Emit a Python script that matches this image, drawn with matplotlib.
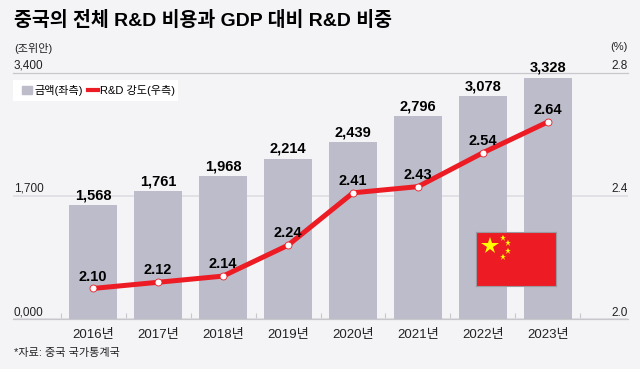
import matplotlib
matplotlib.use('Agg')
import matplotlib.pyplot as plt
from matplotlib.lines import Line2D
from matplotlib.patches import Patch, Rectangle

plt.rcParams['font.family'] = ['Liberation Sans', 'Noto Sans CJK KR']

years = ['2016년', '2017년', '2018년', '2019년', '2020년', '2021년', '2022년', '2023년']
spending = [1568, 1761, 1968, 2214, 2439, 2796, 3078, 3328]
intensity = [2.10, 2.12, 2.14, 2.24, 2.41, 2.43, 2.54, 2.64]
left_ticks = [0, 1700, 3400]
left_labels = ['0,000', '1,700', '3,400']
right_ticks = [2.0, 2.4, 2.8]
right_labels = ['2.0', '2.4', '2.8']

BG = '#f4f4f7'
BAR = '#bcbcca'
RED = '#ed1c24'
GRID = '#c8c8cc'
W, H = 640, 369

fig = plt.figure(figsize=(W / 100, H / 100), dpi=100, facecolor=BG)
ax = fig.add_axes([13 / W, 1 - 319.3 / H, 615 / W, 246.8 / H])
ax.set_facecolor('none')
ax.set_xlim(-1.231, 8.231)
ax.set_ylim(0, 3400)

xs = list(range(len(years)))
ax.bar(xs, spending, width=0.725, color=BAR, zorder=2)
ax.set_xticks([x - 0.5 for x in xs] + [7.5])
ax.set_xticklabels([])
ax.tick_params(axis='x', direction='in', length=4.5, width=0.8, color=GRID)
ax.set_yticks(left_ticks)
ax.set_yticklabels([])
ax.tick_params(axis='y', length=0)
ax.grid(axis='y', color='#dedee2', lw=1.2)
ax.set_axisbelow(True)
for s in ['left', 'right']:
    ax.spines[s].set_visible(False)
for s in ['top', 'bottom']:
    ax.spines[s].set_color(GRID)
    ax.spines[s].set_linewidth(0.9)

for x, year in zip(xs, years):
    ax.annotate(year, (x, 0), xytext=(0, -7), textcoords='offset points',
                ha='center', va='top', fontsize=9.5, color='#222222')
for x, v in zip(xs, spending):
    ax.annotate(f'{v:,}', (x, v), xytext=(0, 2), textcoords='offset points',
                ha='center', va='bottom', fontsize=10.5, fontweight='bold', color='black', zorder=6)

trans = ax.get_yaxis_transform()
for v, lab in zip(left_ticks, left_labels):
    ax.annotate(lab, (0.001, v), xycoords=trans, xytext=(0, 0.8), textcoords='offset points',
                ha='left', va='bottom', fontsize=8.5, color='#222222')

ax2 = ax.twinx()
ax2.set_facecolor('none')
ax2.set_ylim(2.0, 2.8)
ax2.set_yticks([])
for s in ax2.spines.values():
    s.set_visible(False)
ax2.plot(xs, intensity, color=RED, lw=3.6, solid_capstyle='round', zorder=4)
ax2.plot(xs, intensity, ls='none', marker='o', ms=5, mfc='white', mec=RED, mew=0.6, zorder=5)
for x, v in zip(xs, intensity):
    ax2.annotate(f'{v:.2f}', (x, v), xytext=(0, 3.5), textcoords='offset points',
                 ha='center', va='bottom', fontsize=10.5, fontweight='bold', color='black', zorder=6)
trans2 = ax2.get_yaxis_transform()
for v, lab in zip(right_ticks, right_labels):
    ax2.annotate(lab, (0.999, v), xycoords=trans2, xytext=(0, 0.3), textcoords='offset points',
                 ha='right', va='bottom', fontsize=8.5, color='#222222')

fig.text(14 / W, 1 - 20 / H, '중국의 전체 R&D 비용과 GDP 대비 R&D 비중', fontsize=14,
         fontweight='bold', color='black', ha='left', va='center')
fig.text(14 / W, 1 - 48 / H, '(조위안)', fontsize=8, color='#222222', ha='left', va='center')
fig.text(628 / W, 1 - 47 / H, '(%)', fontsize=8, color='#222222', ha='right', va='center')
fig.text(14 / W, 1 - 353 / H, '*자료: 중국 국가통계국', fontsize=8, color='#222222', ha='left', va='center')

# legend sits on a white box of its own
fig.add_artist(Rectangle((13 / W, 1 - 101 / H), 165 / W, 21 / H, transform=fig.transFigure,
                         facecolor='white', edgecolor='none', zorder=3))
handles = [Patch(color=BAR, label='금액(좌측)'),
           Line2D([0], [0], color=RED, lw=3, label='R&D 강도(우측)')]
leg = fig.legend(handles=handles, loc='center left', bbox_to_anchor=(22 / W, 1 - 90.5 / H),
                 ncols=2, frameon=False, fontsize=8, borderpad=0, handlelength=0.9,
                 handleheight=0.8, handletextpad=0.2, columnspacing=0.45, borderaxespad=0)
leg.set_zorder(4)

# flag
fl = fig.add_axes([476 / W, 1 - 286 / H, 80 / W, 54 / H], zorder=7)
fl.set_facecolor(RED)
fl.set_xlim(0, 30)
fl.set_ylim(20, 0)
fl.set_xticks([])
fl.set_yticks([])
for s in fl.spines.values():
    s.set_color('#9a9aa0')
    s.set_linewidth(0.8)
fl.plot([5.2], [5.2], marker='*', ms=13, color='#ffff00', mew=0)
fl.plot([10.1, 12, 12, 10.1], [2.2, 4.1, 7.1, 9.4], ls='none', marker='*', ms=5, color='#ffff00', mew=0)

fig.savefig('out.png', dpi=100, facecolor=BG)
